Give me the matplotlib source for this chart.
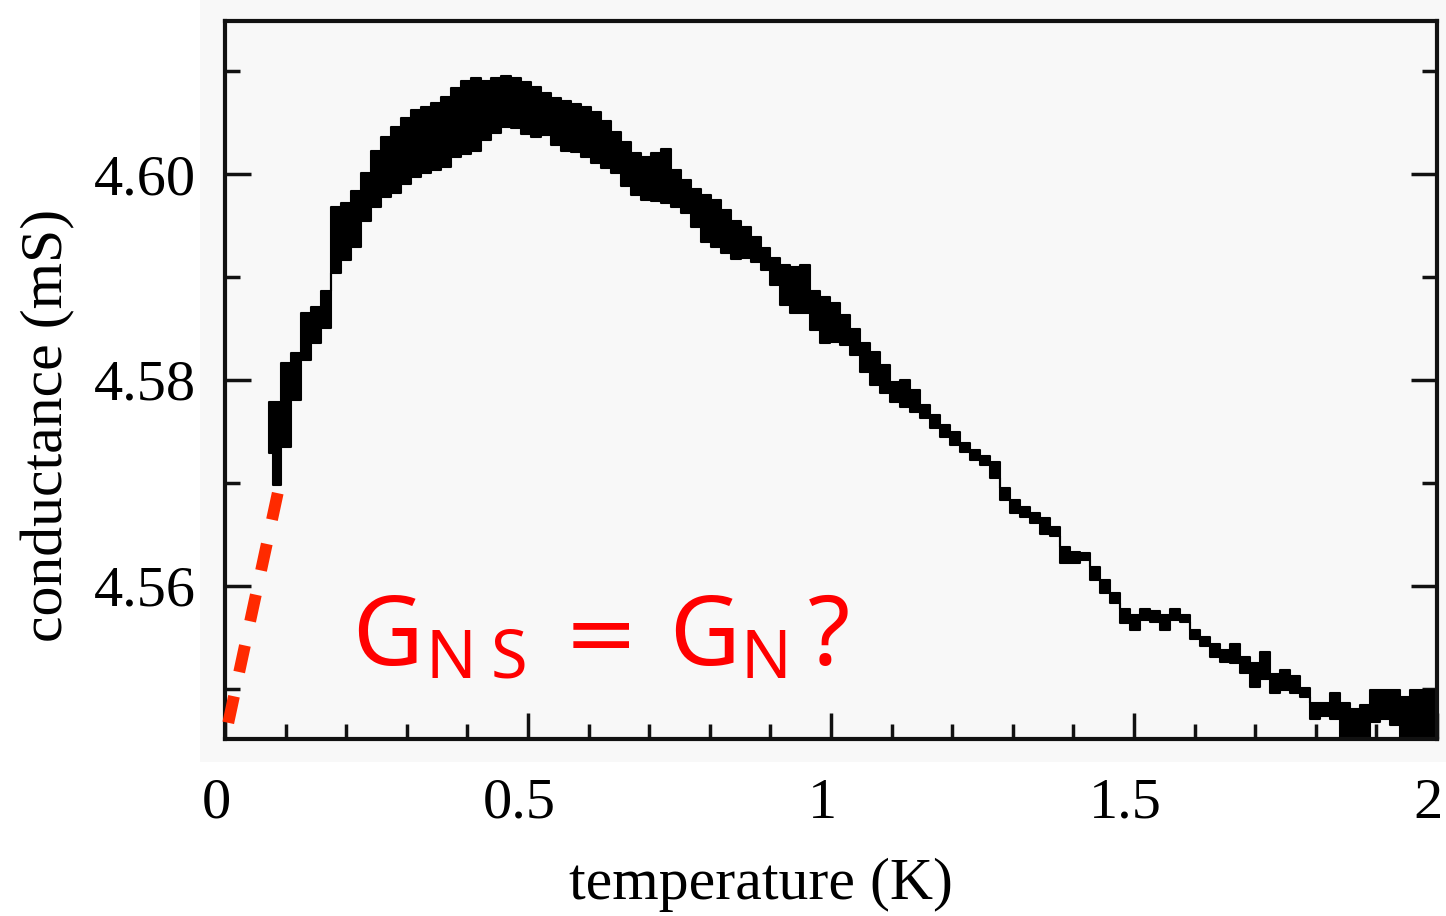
import matplotlib
matplotlib.use('Agg')
import matplotlib.pyplot as plt
import matplotlib.ticker as mticker
import matplotlib.transforms as mtrans
from matplotlib.patches import Rectangle

# temperature (K) sampled along the measured band
temperatura = [0.073, 0.084, 0.101, 0.117, 0.134, 0.150, 0.167, 0.183, 0.200, 0.216,
               0.232, 0.249, 0.265, 0.282, 0.298, 0.315, 0.331, 0.348, 0.364, 0.381,
               0.397, 0.414, 0.430, 0.447, 0.463, 0.480, 0.496, 0.513, 0.529, 0.546,
               0.562, 0.579, 0.595, 0.612, 0.628, 0.645, 0.661, 0.678, 0.694, 0.711,
               0.727, 0.744, 0.760, 0.777, 0.793, 0.810, 0.826, 0.843, 0.859, 0.876,
               0.892, 0.908, 0.925, 0.941, 0.958, 0.974, 0.991, 1.007, 1.024, 1.040,
               1.057, 1.073, 1.090, 1.106, 1.123, 1.139, 1.156, 1.172, 1.189, 1.205,
               1.222, 1.238, 1.255, 1.271, 1.288, 1.304, 1.321, 1.337, 1.354, 1.370,
               1.387, 1.403, 1.420, 1.436, 1.453, 1.469, 1.486, 1.502, 1.519, 1.535,
               1.552, 1.568, 1.584, 1.601, 1.617, 1.634, 1.650, 1.667, 1.683, 1.700,
               1.716, 1.733, 1.749, 1.766, 1.782, 1.799, 1.815, 1.832, 1.848, 1.865,
               1.881, 1.898, 1.914, 1.931, 1.947, 1.964, 1.980, 2.000]

# upper edge of the conductance band (mS)
g_sup = [4.5779, 4.5779, 4.5817, 4.5826, 4.5865, 4.5871, 4.5887, 4.5968, 4.5972, 4.5984,
         4.6001, 4.6023, 4.6036, 4.6046, 4.6055, 4.6062, 4.6065, 4.6069, 4.6075, 4.6084,
         4.6091, 4.6094, 4.6091, 4.6094, 4.6096, 4.6094, 4.6090, 4.6085, 4.6079, 4.6074,
         4.6071, 4.6068, 4.6065, 4.6061, 4.6052, 4.6041, 4.6031, 4.6021, 4.6017, 4.6021,
         4.6025, 4.6004, 4.5994, 4.5986, 4.5980, 4.5975, 4.5965, 4.5955, 4.5949, 4.5939,
         4.5928, 4.5919, 4.5912, 4.5910, 4.5912, 4.5887, 4.5881, 4.5875, 4.5863, 4.5850,
         4.5836, 4.5827, 4.5815, 4.5798, 4.5800, 4.5790, 4.5776, 4.5766, 4.5756, 4.5749,
         4.5739, 4.5732, 4.5726, 4.5720, 4.5695, 4.5683, 4.5677, 4.5671, 4.5666, 4.5657,
         4.5638, 4.5633, 4.5632, 4.5618, 4.5606, 4.5593, 4.5577, 4.5572, 4.5577, 4.5575,
         4.5572, 4.5577, 4.5572, 4.5557, 4.5550, 4.5543, 4.5538, 4.5543, 4.5531, 4.5525,
         4.5536, 4.5514, 4.5518, 4.5512, 4.5501, 4.5486, 4.5486, 4.5496, 4.5486, 4.5480,
         4.5484, 4.5499, 4.5499, 4.5499, 4.5492, 4.5499, 4.5499, 4.5499]

# lower edge of the conductance band (mS)
g_inf = [4.5729, 4.5698, 4.5735, 4.5781, 4.5819, 4.5836, 4.5851, 4.5904, 4.5917, 4.5929,
         4.5955, 4.5968, 4.5978, 4.5982, 4.5991, 4.5997, 4.6001, 4.6004, 4.6007, 4.6017,
         4.6020, 4.6023, 4.6033, 4.6040, 4.6046, 4.6045, 4.6039, 4.6036, 4.6038, 4.6028,
         4.6023, 4.6022, 4.6017, 4.6011, 4.6006, 4.6001, 4.5989, 4.5980, 4.5975, 4.5974,
         4.5972, 4.5968, 4.5962, 4.5949, 4.5934, 4.5929, 4.5923, 4.5918, 4.5919, 4.5915,
         4.5907, 4.5892, 4.5873, 4.5865, 4.5865, 4.5849, 4.5836, 4.5837, 4.5834, 4.5824,
         4.5808, 4.5795, 4.5787, 4.5779, 4.5774, 4.5769, 4.5763, 4.5753, 4.5745, 4.5737,
         4.5730, 4.5722, 4.5717, 4.5705, 4.5683, 4.5671, 4.5667, 4.5661, 4.5650, 4.5648,
         4.5622, 4.5622, 4.5625, 4.5606, 4.5593, 4.5583, 4.5564, 4.5557, 4.5567, 4.5565,
         4.5557, 4.5567, 4.5565, 4.5548, 4.5541, 4.5531, 4.5526, 4.5525, 4.5515, 4.5502,
         4.5509, 4.5496, 4.5499, 4.5496, 4.5492, 4.5470, 4.5473, 4.5470, 4.5453, 4.5445,
         4.5445, 4.5468, 4.5470, 4.5465, 4.5445, 4.5445, 4.5445, 4.5445]

# red dashed extrapolation towards T = 0
extrap_t = [0.087, 0.0]
extrap_g = [4.5690, 4.5452]

x_ticks = [0, 0.5, 1, 1.5, 2]
x_labels = ['0', '0.5', '1', '1.5', '2']
y_ticks = [4.56, 4.58, 4.60]
y_labels = ['4.56', '4.58', '4.60']

W, H = 1446, 916
fig = plt.figure(figsize=(W / 100, H / 100), dpi=100)
fig.patch.set_facecolor('white')
fig.patches.append(Rectangle((200 / W, 1 - 762 / H), 1 - 200 / W, 762 / H,
                             transform=fig.transFigure, facecolor='#f8f8f8',
                             edgecolor='none', zorder=-10))

ax = fig.add_axes([225 / W, 1 - 739 / H, (1437 - 225) / W, (739 - 21) / H])
ax.set_facecolor('#f8f8f8')

ax.fill_between(temperatura, g_inf, g_sup, step='mid', color='black',
                edgecolor='black', linewidth=1.5, zorder=2)
ax.plot(extrap_t, extrap_g, color='#ff2a00', lw=8.5, linestyle=(0, (2.3, 2.1)),
        dash_capstyle='butt', clip_on=False, zorder=3)

ax.set_xlim(0, 2)
ax.set_ylim(4.5451, 4.6149)

serif = 'Liberation Serif'
ax.set_xticks(x_ticks)
ax.set_xticklabels(x_labels, fontfamily=serif, fontsize=42)
ax.set_yticks(y_ticks)
ax.set_yticklabels(y_labels, fontfamily=serif, fontsize=42)
ax.xaxis.set_minor_locator(mticker.MultipleLocator(0.1))
ax.yaxis.set_minor_locator(mticker.MultipleLocator(0.01))
ax.tick_params(which='both', direction='in', left=True, right=True, top=False,
               bottom=True, width=2.5, color='#111111')
ax.tick_params(which='major', length=19)
ax.tick_params(which='minor', length=11)
ax.tick_params(axis='x', pad=28)
ax.tick_params(axis='y', pad=21)
for s in ax.spines.values():
    s.set_linewidth(3)
    s.set_color('#111111')

desplaza = mtrans.ScaledTranslation(-9 / 100, 0, fig.dpi_scale_trans)
for lbl in ax.get_xticklabels():
    lbl.set_transform(lbl.get_transform() + desplaza)

fig.text(761 / W, 1 - 885 / H, 'temperature (K)', fontfamily=serif, fontsize=43,
         ha='center', va='center')
fig.text(48 / W, 1 - 425 / H, 'conductance (mS)', fontfamily=serif, fontsize=43,
         ha='center', va='center', rotation=90)

# red annotation G_NS = G_N ?
rojo = '#ff0000'
fuente = 'Noto Sans'
def px(x, y):
    return x / W, 1 - y / H

fig.text(*px(352, 665), 'G', color=rojo, fontfamily=fuente, fontsize=70, va='baseline')
fig.text(*px(425, 678), 'N', color=rojo, fontfamily=fuente, fontsize=48, va='baseline')
fig.text(*px(491, 678), 'S', color=rojo, fontfamily=fuente, fontsize=48, va='baseline')
fig.text(*px(601, 639), '=', color=rojo, fontfamily='DejaVu Sans', fontsize=64,
         ha='center', va='center')
fig.text(*px(669, 665), 'G', color=rojo, fontfamily=fuente, fontsize=70, va='baseline')
fig.text(*px(741, 678), 'N', color=rojo, fontfamily=fuente, fontsize=48, va='baseline')
fig.text(*px(808, 665), '?', color=rojo, fontfamily=fuente, fontsize=70, va='baseline')

fig.savefig('out.png', dpi=100, facecolor=fig.get_facecolor())
